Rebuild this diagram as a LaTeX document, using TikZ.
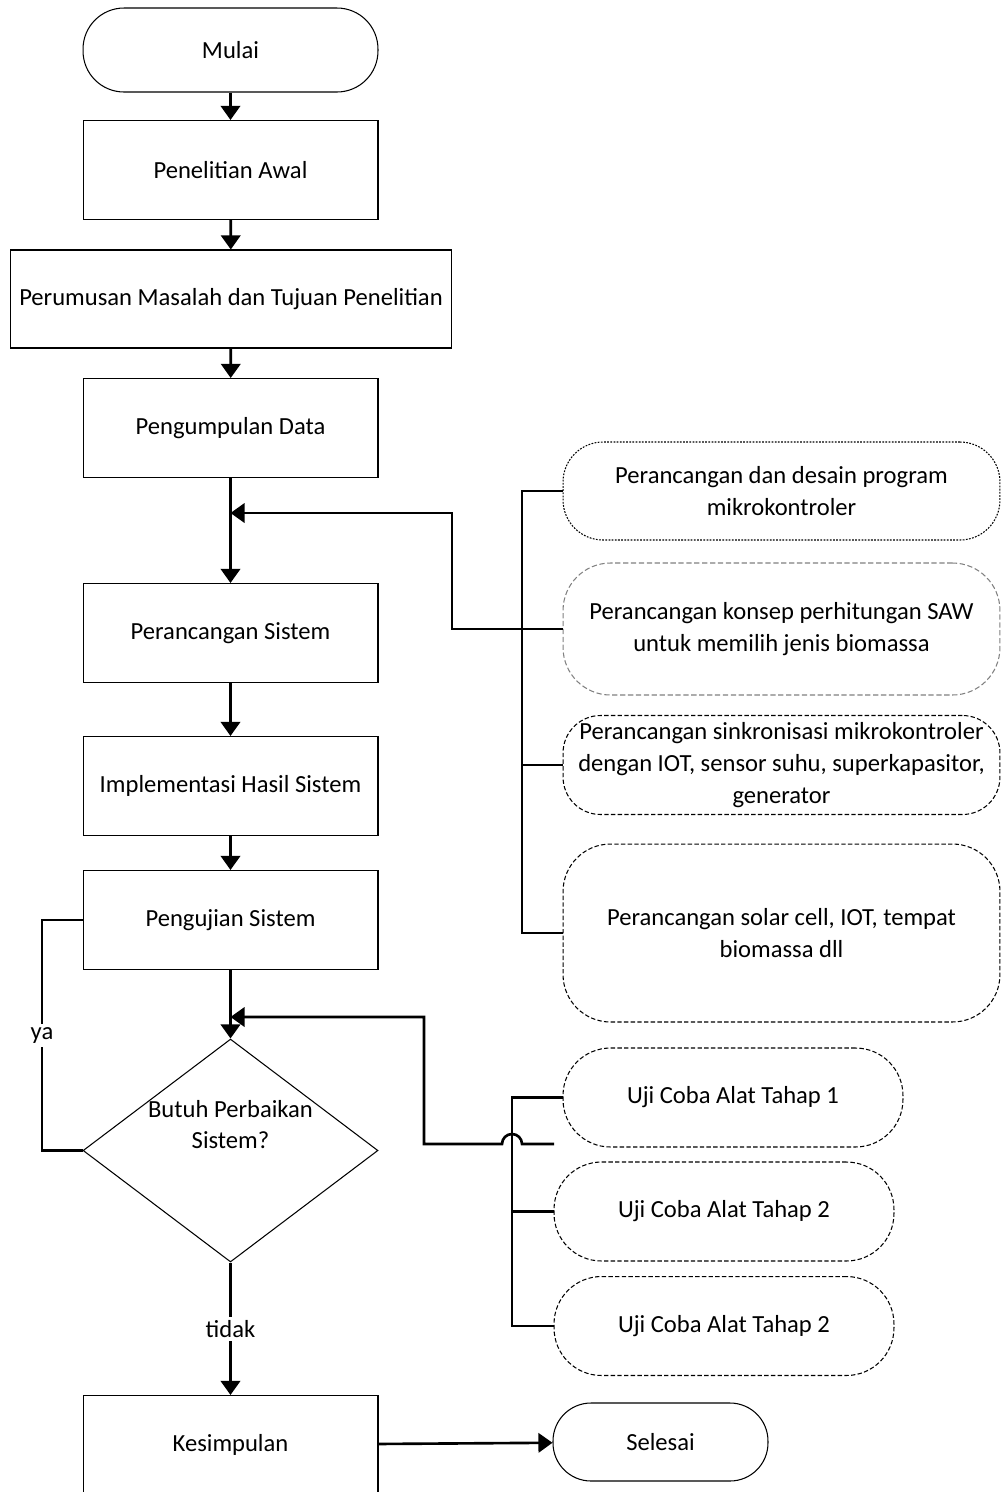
\documentclass[tikz,border=0pt]{standalone}
\usepackage{fontspec}
\setmainfont{Carlito}
\usetikzlibrary{arrows.meta,shapes.geometric}

\tikzset{
  proc/.style={draw, line width=0.6pt, minimum width=5.9cm, minimum height=1.98cm, align=center},
  term/.style={draw, line width=0.6pt, rounded corners=0.82cm, minimum width=5.9cm, minimum height=1.68cm},
  decide/.style={draw, diamond, line width=0.6pt, minimum width=5.9cm, minimum height=4.46cm},
  subbox/.style={draw, line width=0.6pt, align=center, minimum width=8.74cm,
    dash pattern=on 2.5pt off 1.3pt},
  ujibox/.style={draw, line width=0.6pt, rounded corners=0.95cm, minimum width=6.8cm,
    minimum height=1.98cm, dash pattern=on 2.5pt off 1.3pt},
  conn/.style={line width=1.5pt},
  arr/.style={conn, -{Triangle[width=11pt,length=8pt]}},
  lbl/.style={fill=white, inner sep=2pt}
}

\begin{document}
\begin{tikzpicture}[x=0.02cm, y=-0.02cm, font=\fontsize{14}{18}\selectfont]
    \useasboundingbox (0, 0) rectangle (1001, 1492);
    % main column
    \node[term] (mulai) at (230.5, 50) {Mulai};
    \node[proc] (awal) at (230.5, 170) {Penelitian Awal};
    \node[proc, minimum width=8.84cm, minimum height=1.96cm] (rumus) at (231, 299)
      {Perumusan Masalah dan Tujuan Penelitian};
    \node[proc] (kumpul) at (230.5, 428) {Pengumpulan Data};
    \node[proc] (rancang) at (230.5, 633) {Perancangan Sistem};
    \node[proc] (impl) at (230.5, 786) {Implementasi Hasil Sistem};
    \node[proc] (uji) at (230.5, 920) {Pengujian Sistem};
    \node[decide, label={[name=tanya, align=center, yshift=0.52cm]center:Butuh Perbaikan\\Sistem?}]
      (putus) at (230.5, 1150.5) {};
    \node[proc] (simpul) at (230.5, 1445) {Kesimpulan};
    \node[term, minimum width=4.3cm, minimum height=1.56cm, rounded corners=0.76cm]
      (selesai) at (660.5, 1442) {Selesai};
    % perancangan detail
    \node[subbox, minimum height=1.96cm, rounded corners=0.8cm, dash pattern=on 1pt off 0.8pt]
      (desain1) at (781.5, 491) {Perancangan dan desain program\\mikrokontroler};
    \node[subbox, minimum height=2.64cm, rounded corners=0.95cm, draw=gray, dash pattern=on 3pt off 1.5pt]
      (desain2) at (781.5, 629) {Perancangan konsep perhitungan SAW\\untuk memilih jenis biomassa};
    \node[subbox, minimum height=1.98cm, rounded corners=0.75cm]
      (desain3) at (781.5, 765) {Perancangan sinkronisasi mikrokontroler\\dengan IOT, sensor suhu, superkapasitor,\\generator};
    \node[subbox, minimum height=3.56cm, rounded corners=0.95cm]
      (desain4) at (781.5, 933) {Perancangan solar cell, IOT, tempat\\biomassa dll};
    % uji coba
    \node[ujibox] (uji1) at (733, 1097.5) {Uji Coba Alat Tahap 1};
    \node[ujibox] (uji2) at (724, 1211.5) {Uji Coba Alat Tahap 2};
    \node[ujibox] (uji3) at (724, 1326) {Uji Coba Alat Tahap 2};
    \coordinate (masuk1) at (230.5, 513);
    \coordinate (masuk2) at (230.5, 1017);
    \coordinate (ujiujung) at (554, 1144);
    % alur utama
    \draw[arr] (mulai) -- (awal);
    \draw[arr] (awal) -- (rumus);
    \draw[arr] (rumus) -- (kumpul);
    \draw[arr] (kumpul) -- (rancang);
    \draw[arr] (rancang) -- (impl);
    \draw[arr] (impl) -- (uji);
    \draw[arr] (uji) -- (putus);
    \draw[arr] (putus) -- node[lbl] {tidak} (simpul);
    \draw[arr] (simpul) -- (selesai);
    \draw[conn] (uji.west) -- (42, 920) -- node[lbl] {ya} (42, 1150.5) -- (putus.west);
    % cabang perancangan
    \draw[conn] (desain1.west) -- (522, 491) -- (522, 933) -- (desain4.west);
    \draw[conn] (522, 765) -- (desain3.west);
    \draw[arr] (desain2.west) -- (452, 629) -- (452, 513) -- (masuk1);
    % cabang uji coba
    \draw[conn] (uji1.west) -- (512, 1097.5) -- (512, 1326) -- (uji3.west);
    \draw[conn] (512, 1211.5) -- (uji2.west);
    \draw[arr] (ujiujung) -- (522, 1144) arc[start angle=0, end angle=180, radius=0.2cm]
      -- (424, 1144) -- (424, 1017) -- (masuk2);
  \end{tikzpicture}
\end{document}
